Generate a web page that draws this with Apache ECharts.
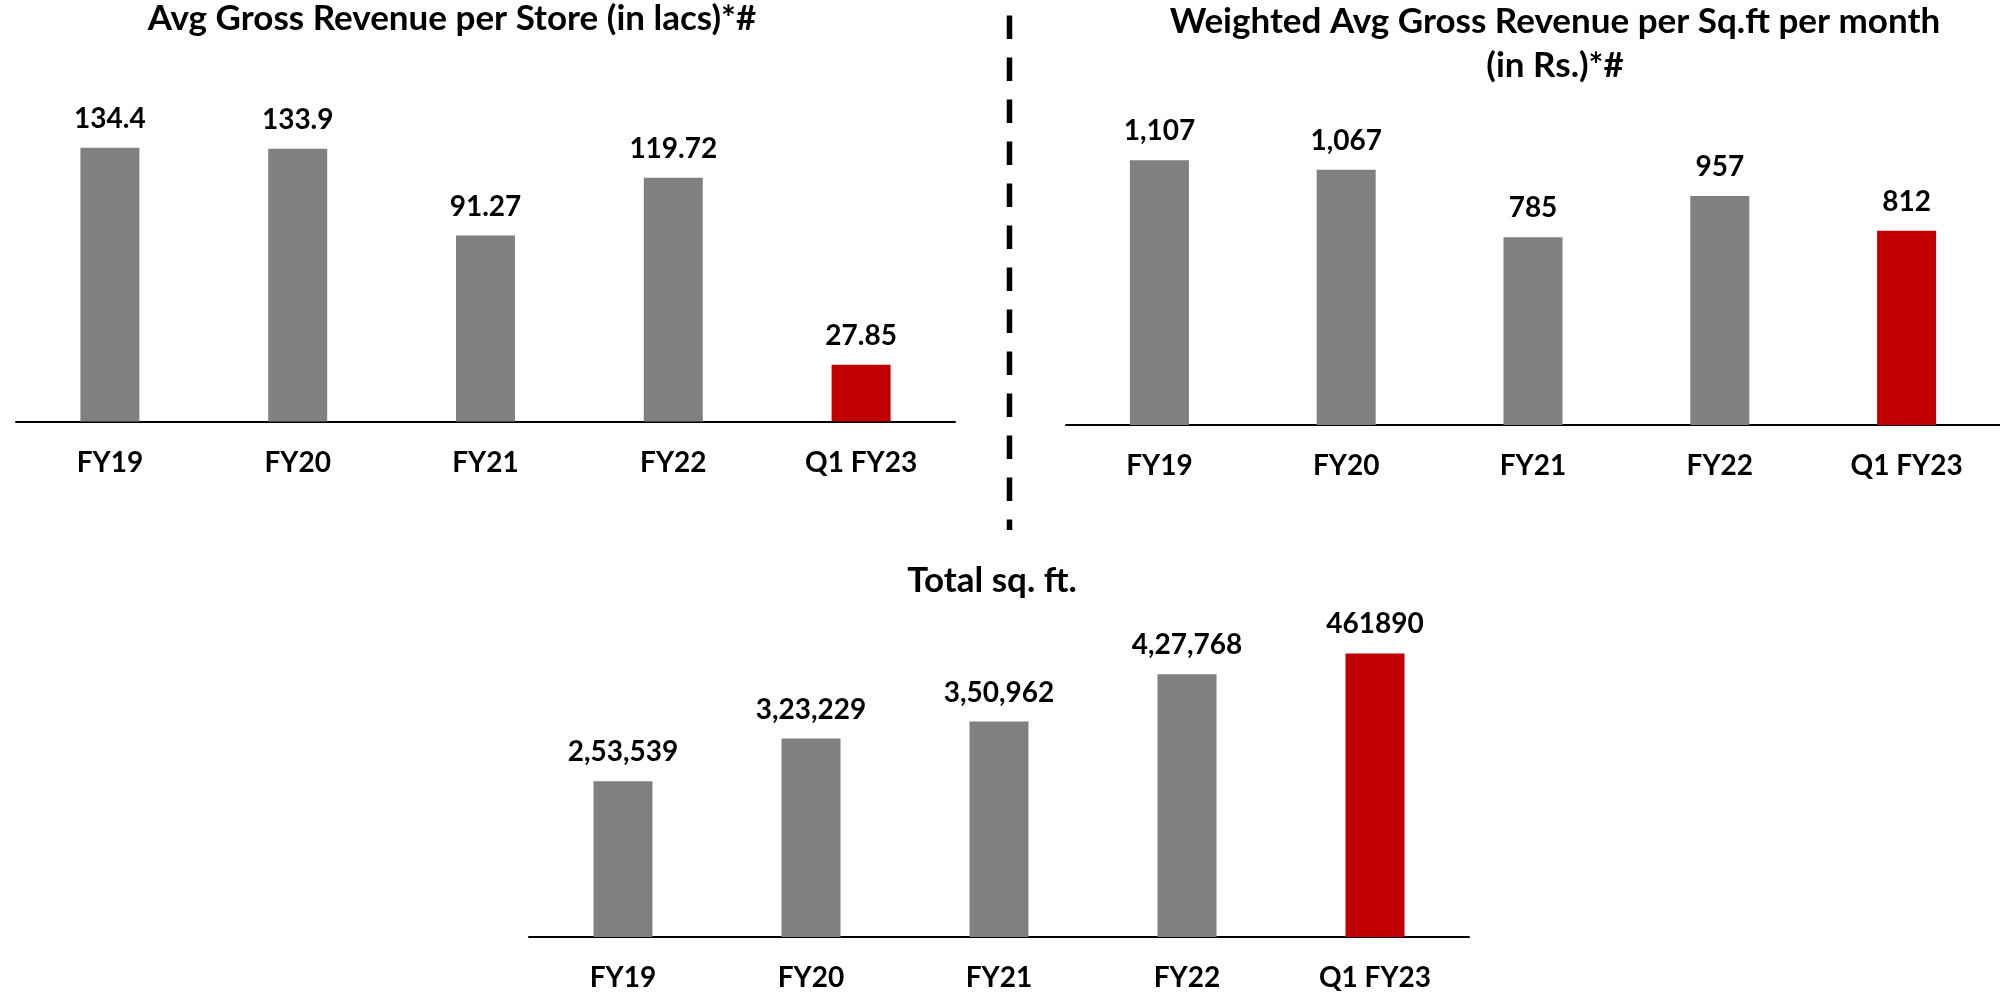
<!DOCTYPE html>
<html>
<head>
<meta charset="utf-8">
<script src="https://cdn.jsdelivr.net/npm/echarts@6/dist/echarts.min.js"></script>
<style>
  html, body { margin: 0; padding: 0; background: #ffffff; }
  #chart { width: 2000px; height: 993px; }
</style>
</head>
<body>
<div id="chart"></div>
<script>
// Categories shared by all three panels
const categories = ['FY19', 'FY20', 'FY21', 'FY22', 'Q1 FY23'];

// Avg gross revenue per store (in lacs)
const revenuePerStore = [134.4, 133.9, 91.27, 119.72, 27.85];

// Weighted avg gross revenue per sq.ft per month (in Rs.)
const revenuePerSqft = [1107, 1067, 785, 957, 812];

// Total sq. ft.
const totalSqft = [253539, 323229, 350962, 427768, 461890];
const totalSqftLabels = ['2,53,539', '3,23,229', '3,50,962', '4,27,768', '461890'];

const GREY = '#808080';
const RED = '#C00000';
const FONT = 'Lato';
const FS = 28;
const TITLE_FS = 35;

function barData(values) {
  return values.map((v, i) => ({
    value: v,
    itemStyle: { color: i === values.length - 1 ? RED : GREY }
  }));
}

function xAxisFor(gridIndex) {
  return {
    type: 'category',
    gridIndex: gridIndex,
    data: categories,
    axisLine: { show: true, lineStyle: { color: '#000000', width: 2 } },
    axisTick: { show: false },
    axisLabel: {
      margin: 27,
      color: '#000000',
      fontFamily: FONT,
      fontWeight: 'bold',
      fontSize: FS
    }
  };
}

function yAxisFor(gridIndex, max) {
  return {
    type: 'value',
    gridIndex: gridIndex,
    min: 0,
    max: max,
    show: false,
    splitLine: { show: false }
  };
}

function labelStyle(formatter) {
  return {
    show: true,
    position: 'top',
    distance: 15,
    color: '#000000',
    fontFamily: FONT,
    fontWeight: 'bold',
    fontSize: FS,
    formatter: formatter
  };
}

const chart = echarts.init(document.getElementById('chart'), null, { renderer: 'canvas' });

const titleStyle = {
  color: '#000000',
  fontFamily: FONT,
  fontWeight: 'bold',
  fontSize: TITLE_FS,
  lineHeight: 44
};

chart.setOption({
  animation: false,
  backgroundColor: '#ffffff',
  title: [
    {
      text: 'Avg Gross Revenue per Store (in lacs)*#',
      left: 452, top: -3, padding: 0, textAlign: 'center',
      textStyle: titleStyle
    },
    {
      text: 'Weighted Avg Gross Revenue per Sq.ft per month\n(in Rs.)*#',
      left: 1555, top: 0, padding: 0, textAlign: 'center',
      textStyle: titleStyle
    },
    {
      text: 'Total sq. ft.',
      left: 992, top: 559, padding: 0, textAlign: 'center',
      textStyle: titleStyle
    }
  ],
  grid: [
    { left: 16, width: 939, top: 116, height: 305.5 },
    { left: 1066, width: 940, top: 138, height: 287 },
    { left: 529, width: 940, top: 630, height: 307 }
  ],
  xAxis: [xAxisFor(0), xAxisFor(1), xAxisFor(2)],
  yAxis: [yAxisFor(0, 150), yAxisFor(1, 1200), yAxisFor(2, 500000)],
  series: [
    {
      type: 'bar',
      xAxisIndex: 0, yAxisIndex: 0,
      barWidth: 59,
      data: barData(revenuePerStore),
      label: labelStyle(p => String(p.value))
    },
    {
      type: 'bar',
      xAxisIndex: 1, yAxisIndex: 1,
      barWidth: 59,
      data: barData(revenuePerSqft),
      label: labelStyle(p => p.value.toLocaleString('en-US'))
    },
    {
      type: 'bar',
      xAxisIndex: 2, yAxisIndex: 2,
      barWidth: 59,
      data: barData(totalSqft),
      label: labelStyle(p => totalSqftLabels[p.dataIndex])
    }
  ],
  graphic: [
    {
      type: 'line',
      shape: { x1: 1009.5, y1: 15.5, x2: 1009.5, y2: 530 },
      style: { stroke: '#000000', lineWidth: 5.5, lineDash: [23.5, 18.5] },
      silent: true
    }
  ]
});
</script>
</body>
</html>
